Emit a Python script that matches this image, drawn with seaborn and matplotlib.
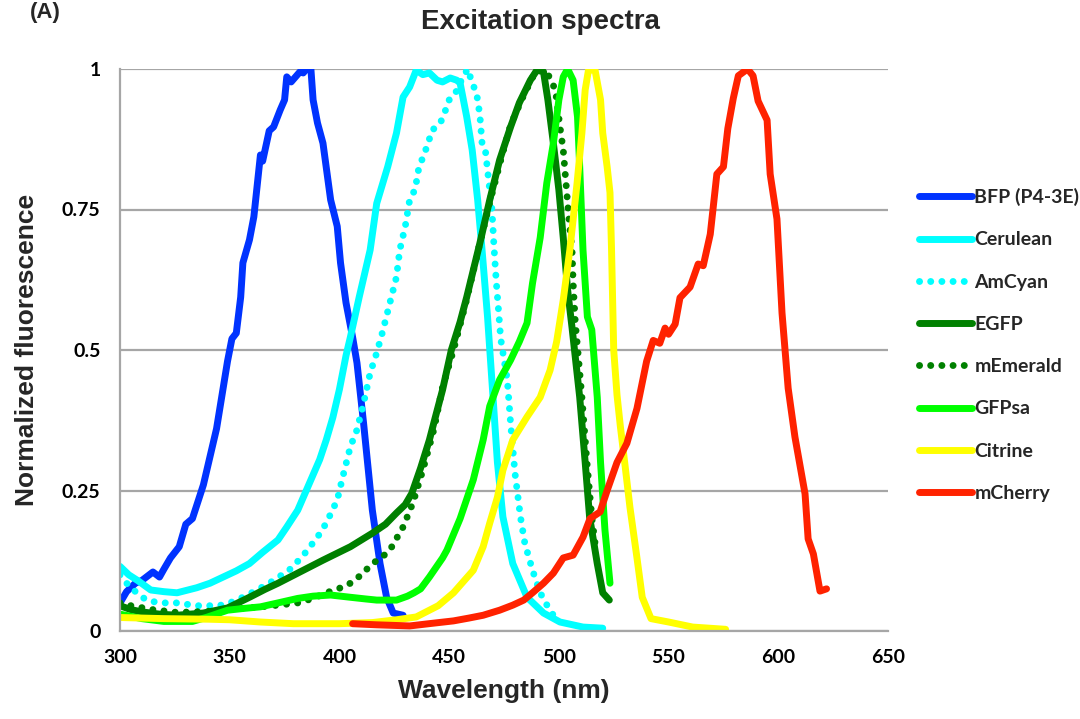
import numpy as np
import pandas as pd
import matplotlib
matplotlib.use("Agg")
import matplotlib.pyplot as plt
import seaborn as sns

# ---------------- data ----------------
names = ["BFP (P4-3E)", "Cerulean", "AmCyan", "EGFP", "mEmerald", "GFPsa", "Citrine", "mCherry"]

bfp_nm = [300, 303, 307, 310, 315, 318, 320, 323, 327, 330, 333, 338, 344, 349, 351, 353, 355, 356, 359, 361,
          364, 365, 368, 370, 373, 375, 376, 378, 382, 383.5, 385, 387, 388, 390, 392.5, 396, 399, 400.5, 403,
          406, 408, 411, 415, 418.5, 421.5, 424.5, 429]
bfp_val = [0.05, 0.07, 0.085, 0.09, 0.105, 0.096, 0.11, 0.13, 0.15, 0.19, 0.2, 0.26, 0.36, 0.48, 0.52, 0.53,
           0.594, 0.655, 0.696, 0.737, 0.847, 0.836, 0.89, 0.897, 0.927, 0.945, 0.986, 0.977, 0.995, 0.993,
           1.0, 1.0, 0.945, 0.904, 0.868, 0.767, 0.72, 0.655, 0.584, 0.523, 0.477, 0.37, 0.215, 0.12, 0.06,
           0.032, 0.028]

cer_nm = [300, 304, 308, 314, 320, 326, 335, 341, 347, 353, 359, 365, 372, 376, 381, 387, 391, 394, 397, 400,
          403, 405, 409, 414, 417, 422, 426, 429, 432, 435, 438, 441, 444.5, 447, 450.5, 453.5, 455, 458,
          460.5, 463, 465, 467.5, 470, 472, 474.5, 479, 485.5, 493, 500.5, 511, 520]
cer_val = [0.115, 0.1, 0.09, 0.073, 0.07, 0.068, 0.077, 0.085, 0.096, 0.107, 0.12, 0.14, 0.162, 0.185, 0.215,
           0.269, 0.305, 0.34, 0.38, 0.43, 0.49, 0.523, 0.594, 0.678, 0.761, 0.826, 0.886, 0.95, 0.968, 0.998,
           0.99, 0.993, 0.98, 0.977, 0.984, 0.98, 0.975, 0.915, 0.856, 0.767, 0.678, 0.559, 0.416, 0.3, 0.203,
           0.12, 0.06, 0.032, 0.016, 0.007, 0.005]

amc_nm = [300, 304.5, 309, 312, 318, 326, 335, 345, 350, 356, 362, 368, 377, 383, 390, 394, 399, 401.5, 405,
          408, 411, 414, 417, 419.5, 423, 426, 427.5, 430, 432, 434.5, 436, 438, 440.5, 442, 446, 448, 450.5,
          453.5, 456, 458.5, 460.5, 462.5, 464, 465, 466.5, 467.5, 469.5, 470.5, 471.5, 472.5, 473.5, 476.5,
          478, 480, 482.5, 484.5, 488, 491.5, 495, 498]
amc_val = [0.1, 0.078, 0.064, 0.055, 0.05, 0.05, 0.045, 0.045, 0.05, 0.06, 0.072, 0.085, 0.108, 0.132, 0.167,
           0.192, 0.233, 0.274, 0.328, 0.358, 0.405, 0.459, 0.495, 0.53, 0.584, 0.63, 0.678, 0.72, 0.767,
           0.786, 0.82, 0.843, 0.868, 0.89, 0.904, 0.923, 0.95, 0.961, 0.984, 1.0, 0.975, 0.957, 0.918, 0.868,
           0.856, 0.82, 0.75, 0.68, 0.62, 0.571, 0.52, 0.447, 0.37, 0.281, 0.203, 0.156, 0.108, 0.068, 0.043,
           0.025]

egfp_nm = [300, 305, 310, 318, 326, 338, 349, 359, 366, 372, 381, 392.5, 405, 415, 421, 426, 430, 433, 437,
           441, 443, 447, 451, 455, 458, 464, 468.5, 473, 478, 482, 487, 490, 493, 495, 497.5, 500, 502, 504,
           506, 509.5, 512, 514, 517.5, 520, 523]
egfp_val = [0.045, 0.038, 0.034, 0.03, 0.028, 0.032, 0.041, 0.06, 0.074, 0.085, 0.103, 0.126, 0.15, 0.174,
            0.19, 0.21, 0.225, 0.245, 0.29, 0.34, 0.37, 0.429, 0.5, 0.55, 0.594, 0.69, 0.767, 0.838, 0.897,
            0.94, 0.98, 0.998, 0.995, 0.945, 0.868, 0.785, 0.7, 0.607, 0.54, 0.416, 0.3, 0.203, 0.12, 0.068,
            0.055]

mem_nm = [300, 305, 315, 326, 340, 350, 364, 372, 381, 388, 394, 400, 405, 410, 415, 419, 423, 429, 433.5,
          438, 443, 447, 452, 458, 464, 469, 474, 478, 483, 488, 492.5, 496, 498.5, 500.5, 502, 503.5, 504.5,
          506, 506.5, 507.5, 508.5, 510.5, 512.8, 515, 517]
mem_val = [0.05, 0.045, 0.038, 0.033, 0.035, 0.038, 0.043, 0.046, 0.05, 0.058, 0.068, 0.076, 0.085, 0.1,
           0.12, 0.13, 0.144, 0.185, 0.228, 0.286, 0.358, 0.434, 0.5, 0.59, 0.69, 0.77, 0.845, 0.9, 0.945,
           0.985, 1.0, 0.985, 0.961, 0.897, 0.856, 0.785, 0.737, 0.678, 0.62, 0.548, 0.505, 0.416, 0.3, 0.203,
           0.14]

gfp_nm = [300, 310, 320, 333, 340, 349, 356, 364, 372, 381, 388, 396, 405, 412, 417, 426, 431, 434, 437, 441,
          447, 449, 455, 461, 465.5, 468.5, 473, 478, 482, 485.5, 488, 491.5, 494.5, 497.5, 500, 502, 504,
          506.5, 508.5, 509.5, 511, 513, 515, 517.5, 519, 521, 523.3]
gfp_val = [0.03, 0.022, 0.017, 0.017, 0.025, 0.037, 0.04, 0.043, 0.05, 0.058, 0.062, 0.064, 0.06, 0.057,
           0.055, 0.055, 0.062, 0.068, 0.075, 0.096, 0.13, 0.144, 0.2, 0.269, 0.34, 0.4, 0.447, 0.482, 0.515,
           0.548, 0.619, 0.7, 0.797, 0.868, 0.945, 0.986, 1.0, 0.98, 0.915, 0.826, 0.678, 0.559, 0.536, 0.416,
           0.3, 0.18, 0.085]

cit_nm = [300, 320, 340, 350, 364, 379, 400, 415, 426, 435, 440, 445, 452, 461, 465.5, 468.5, 472, 474.5,
          479, 485.5, 491.5, 496, 499, 502, 505, 508.3, 510.5, 512, 513.5, 516.5, 519, 520, 522, 523.3, 524,
          525, 526.5, 528, 530, 532.4, 535.6, 538, 542, 550, 561, 576]
cit_val = [0.024, 0.022, 0.021, 0.02, 0.016, 0.013, 0.013, 0.015, 0.02, 0.025, 0.035, 0.045, 0.068, 0.108,
           0.15, 0.192, 0.238, 0.286, 0.34, 0.381, 0.416, 0.464, 0.515, 0.589, 0.678, 0.797, 0.886, 0.963,
           0.998, 0.998, 0.945, 0.886, 0.826, 0.78, 0.68, 0.5, 0.42, 0.365, 0.3, 0.22, 0.13, 0.06, 0.022,
           0.016, 0.007, 0.003]

mch_nm = [406, 417, 432, 443, 452, 459, 465.5, 473, 479, 484, 488, 493, 497.5, 502, 506.5, 511, 514.2, 518.8,
          522, 526.5, 531, 535.6, 540, 543, 546, 548.4, 550, 553, 555.2, 559.8, 563.5, 565.8, 569, 572, 575,
          577, 579.5, 581.8, 586, 588.5, 590.8, 594.9, 596.3, 599.4, 601.7, 604.5, 607.6, 612.2, 613.6, 616,
          619, 622]
mch_val = [0.013, 0.011, 0.009, 0.014, 0.018, 0.023, 0.028, 0.037, 0.046, 0.055, 0.068, 0.085, 0.103, 0.13,
           0.135, 0.167, 0.2, 0.212, 0.25, 0.3, 0.334, 0.396, 0.48, 0.517, 0.512, 0.539, 0.528, 0.546, 0.593,
           0.612, 0.653, 0.65, 0.706, 0.813, 0.826, 0.894, 0.948, 0.988, 1.0, 0.988, 0.943, 0.909, 0.813,
           0.733, 0.566, 0.432, 0.345, 0.244, 0.164, 0.137, 0.071, 0.075]

x_ticks = [300, 350, 400, 450, 500, 550, 600, 650]
y_ticks = [0, 0.25, 0.5, 0.75, 1]
y_tick_labels = ["0", "0.25", "0.5", "0.75", "1"]

series = [
    (bfp_nm, bfp_val), (cer_nm, cer_val), (amc_nm, amc_val), (egfp_nm, egfp_val),
    (mem_nm, mem_val), (gfp_nm, gfp_val), (cit_nm, cit_val), (mch_nm, mch_val),
]
colors = ["#0033FF", "#00FFFF", "#00FFFF", "#008000", "#008000", "#00FF00", "#FFFF00", "#FF2200"]
dotted = [False, False, True, False, True, False, False, False]

# ---------------- plot ----------------
sns.set_theme(style="white")
plt.rcParams["font.family"] = ["Lato", "DejaVu Sans"]

fig = plt.figure(figsize=(10.8, 7.19), dpi=100)
ax = fig.add_axes([120 / 1080, 1 - 631 / 719, 768 / 1080, 562 / 719])

LW = 5
dot_style = (0, (0.01, 1.6))
lines = []
for (xs, ys), name, col, dot in zip(series, names, colors, dotted):
    df = pd.DataFrame({"nm": xs, "val": ys})
    n_before = len(ax.lines)
    sns.lineplot(data=df, x="nm", y="val", ax=ax, color=col, linewidth=LW,
                 linestyle=dot_style if dot else "-", sort=False, estimator=None, legend=False)
    ln = ax.lines[n_before]
    ln.set_dash_capstyle("round")
    ln.set_solid_capstyle("round")
    ln.set_solid_joinstyle("round")
    lines.append(ln)

ax.set_xlim(300, 650)
ax.set_ylim(0, 1)
ax.set_xticks(x_ticks)
ax.set_xticklabels([str(t) for t in x_ticks])
ax.set_yticks(y_ticks)
ax.set_yticklabels(y_tick_labels)

grid_col = "#A6A6A6"
ax.yaxis.grid(True, color=grid_col, linewidth=1.6)
ax.xaxis.grid(False)
ax.set_axisbelow(True)
for s in ["top", "right"]:
    ax.spines[s].set_visible(False)
for s in ["left", "bottom"]:
    ax.spines[s].set_color(grid_col)
    ax.spines[s].set_linewidth(1.6)
ax.tick_params(axis="both", which="major", direction="out", length=4, width=1.4, color=grid_col,
               labelsize=14)
ax.tick_params(axis="x", pad=9)
ax.tick_params(axis="y", pad=10)
for lab in ax.get_xticklabels() + ax.get_yticklabels():
    lab.set_fontweight("bold")
    lab.set_color("black")

ax.set_xlabel("Wavelength (nm)", fontsize=19, fontweight="bold", family=["Liberation Sans", "DejaVu Sans"])
ax.set_ylabel("Normalized fluorescence", fontsize=19, fontweight="bold", family=["Liberation Sans", "DejaVu Sans"])
ax.xaxis.set_label_coords(0.5, -0.085)
ax.yaxis.set_label_coords(-0.106, 0.5)

fig.text(0.5, 1 - 22 / 719, "Excitation spectra", ha="center", va="center", fontsize=20,
         fontweight="bold", family=["Liberation Sans", "DejaVu Sans"])
fig.text(30 / 1080, 1 - 2 / 719, "(A)", ha="left", va="top", fontsize=16,
         fontweight="bold", family=["Liberation Sans", "DejaVu Sans"])

leg = ax.legend(handles=lines, labels=names, loc="upper left", bbox_to_anchor=(919 / 1080, 1 - 188 / 719),
                bbox_transform=fig.transFigure, frameon=False, fontsize=14, handlelength=2.7,
                handletextpad=0.15, labelspacing=1.3, borderpad=0, borderaxespad=0)
for t in leg.get_texts():
    t.set_fontweight("bold")

fig.savefig("out.png", dpi=100)
